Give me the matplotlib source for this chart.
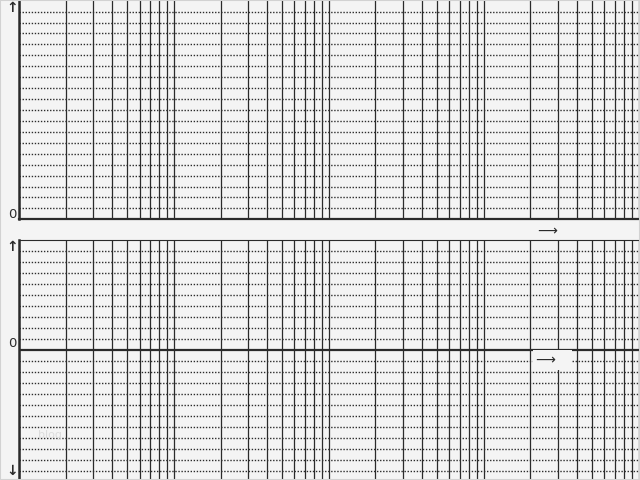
"""Blank Bode-style log grid (magnitude and phase panels)."""

import numpy as np
import matplotlib
matplotlib.use("Agg")
import matplotlib.pyplot as plt
from matplotlib.patches import Rectangle

# grid values
decades = [1, 10, 100, 1000]
multipliers = [1, 2, 3, 4, 5, 6, 7, 8, 9]
x_end = 10000
top_levels = list(range(1, 20))
bottom_levels = list(range(-11, 10))

bg = "#f4f4f4"
ink = "#2b2b2b"

plt.rcParams.update({"font.family": ["DejaVu Sans"], "font.size": 9})

fig = plt.figure(figsize=(6.4, 4.8), dpi=100, facecolor=bg)
fig.patches.append(Rectangle((0, 0), 1, 1, transform=fig.transFigure,
                             fill=False, edgecolor="#d2d2d2", linewidth=1.5))

ax1 = fig.add_axes([19 / 640, 1 - 219.3 / 480, 619.7 / 640, 218.6 / 480])
ax2 = fig.add_axes([19 / 640, 0, 619.7 / 640, 240.3 / 480])

vlines = [d * m for d in decades for m in multipliers] + [x_end]

for ax in (ax1, ax2):
    ax.set_facecolor(bg)
    ax.set_xscale("log")
    ax.set_xlim(1, x_end)
    for v in vlines:
        ax.axvline(v, color=ink, linewidth=0.9, zorder=2)
    ax.set_xticks([])
    ax.set_xticks([], minor=True)
    ax.set_yticks([])
    for s in ("top", "right", "bottom"):
        ax.spines[s].set_visible(False)
    ax.spines["left"].set_color(ink)
    ax.spines["left"].set_linewidth(1.8)

# top panel: magnitude
ax1.set_ylim(0, 20)
for y in top_levels:
    ax1.axhline(y, color=ink, linewidth=1.0, linestyle=(0, (1, 1.2)), zorder=1)
ax1.spines["bottom"].set_visible(True)
ax1.spines["bottom"].set_color(ink)
ax1.spines["bottom"].set_linewidth(1.6)
ax1.text(-0.011, 0.968, "↑", transform=ax1.transAxes, ha="center", va="center",
         fontsize=10, fontweight="bold", color=ink)
ax1.text(-0.011, 0.02, "0", transform=ax1.transAxes, ha="center", va="center",
         fontsize=9.5, color=ink)

# bottom panel: phase
ax2.set_ylim(-11.79, 10)
for y in bottom_levels:
    if y != 0:
        ax2.axhline(y, color=ink, linewidth=1.0, linestyle=(0, (1, 1.2)), zorder=1)
ax2.axhline(0, color=ink, linewidth=1.6, zorder=3)
ax2.spines["top"].set_visible(True)
ax2.spines["top"].set_color(ink)
ax2.spines["top"].set_linewidth(0.8)
ax2.text(-0.011, 0.97, "↑", transform=ax2.transAxes, ha="center", va="center",
         fontsize=10, fontweight="bold", color=ink)
ax2.text(-0.011, 0.57, "0", transform=ax2.transAxes, ha="center", va="center",
         fontsize=9.5, color=ink)
ax2.text(-0.011, 0.037, "↓", transform=ax2.transAxes, ha="center", va="center",
         fontsize=10, fontweight="bold", color=ink)

# frequency arrows
fig.text(547 / 640, 1 - 231 / 480, "⟶", ha="center", va="center",
         fontsize=10, color=ink)
fig.text(536 / 640, 1 - 360 / 480, "⟶   ", ha="left", va="center",
         fontsize=10, color=ink, zorder=5,
         bbox=dict(facecolor=bg, edgecolor="none", pad=2))

# faint watermark
fig.text(50 / 640, 1 - 435 / 480, "blog", ha="center", va="center",
         fontsize=8, color="#dcdcdc")

fig.savefig("out.png", dpi=100, facecolor=bg)
